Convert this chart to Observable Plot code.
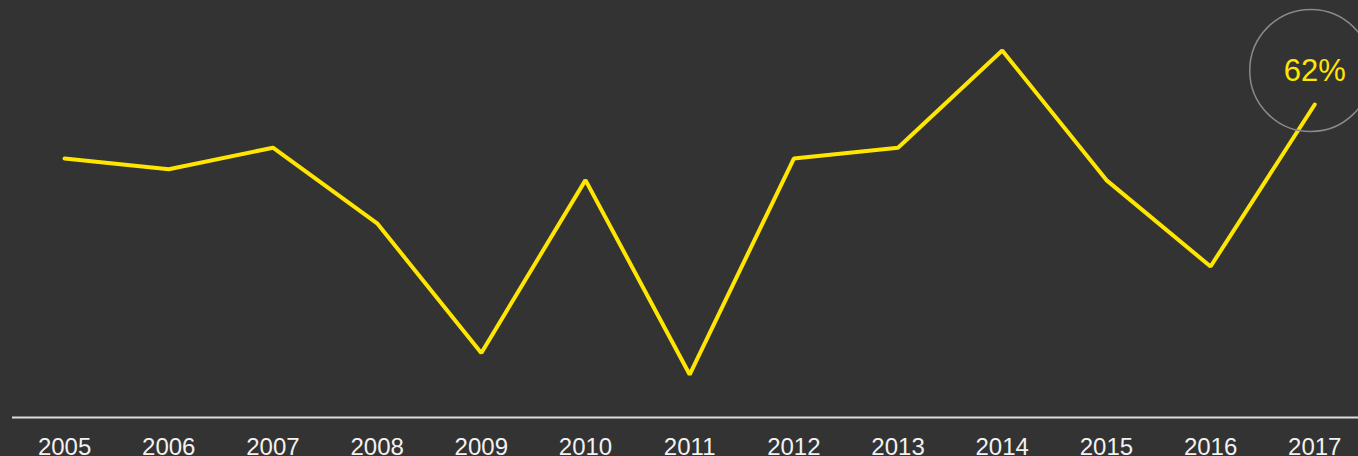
<!DOCTYPE html>
<html>
<head>
<meta charset="utf-8">
<script src="https://cdn.jsdelivr.net/npm/d3@7"></script>
<script src="https://cdn.jsdelivr.net/npm/@observablehq/plot@0.6"></script>
<style>
  html, body { margin: 0; padding: 0; background: #333333; }
  #chart svg { display: block; }
</style>
</head>
<body>
<div id="chart"></div>
<script>
const years = [2005, 2006, 2007, 2008, 2009, 2010, 2011, 2012, 2013, 2014, 2015, 2016, 2017];
const values = [57, 56, 58, 51, 39, 55, 37, 57, 58, 67, 55, 47, 62];
const highlightLabel = "62%";

const data = years.map((y, i) => ({year: y, value: values[i]}));
const last = data[data.length - 1];

const chart = Plot.plot({
  width: 1358,
  height: 456,
  marginTop: 0,
  marginBottom: 39,
  marginLeft: 12,
  marginRight: 0,
  style: {background: "#333333", fontFamily: "'Liberation Sans', Arial, sans-serif"},
  x: {domain: [2004.5, 2017.42], ticks: years, tickFormat: d => String(d), label: null},
  y: {domain: [33.02, 71.63], axis: null},
  marks: [
    Plot.ruleY([33.02], {stroke: "#dddddd", strokeWidth: 2}),
    Plot.axisX({ticks: years, tickFormat: d => String(d), tickSize: 0, tickPadding: 20, fontSize: 24, fill: "#f2f2f2", label: null}),
    Plot.line(data, {x: "year", y: "value", stroke: "#ffe600", strokeWidth: 4, strokeLinecap: "round", strokeLinejoin: "miter"}),
    Plot.dot([last], {x: "year", y: "value", r: 61, dx: -4, dy: -34, stroke: "#8a8a8a", strokeWidth: 1.5, fill: "none"}),
    Plot.text([last], {x: "year", y: "value", text: () => highlightLabel, dy: -33, fontSize: 31, fill: "#ffe600"})
  ]
});
document.getElementById("chart").appendChild(chart);
</script>
</body>
</html>
